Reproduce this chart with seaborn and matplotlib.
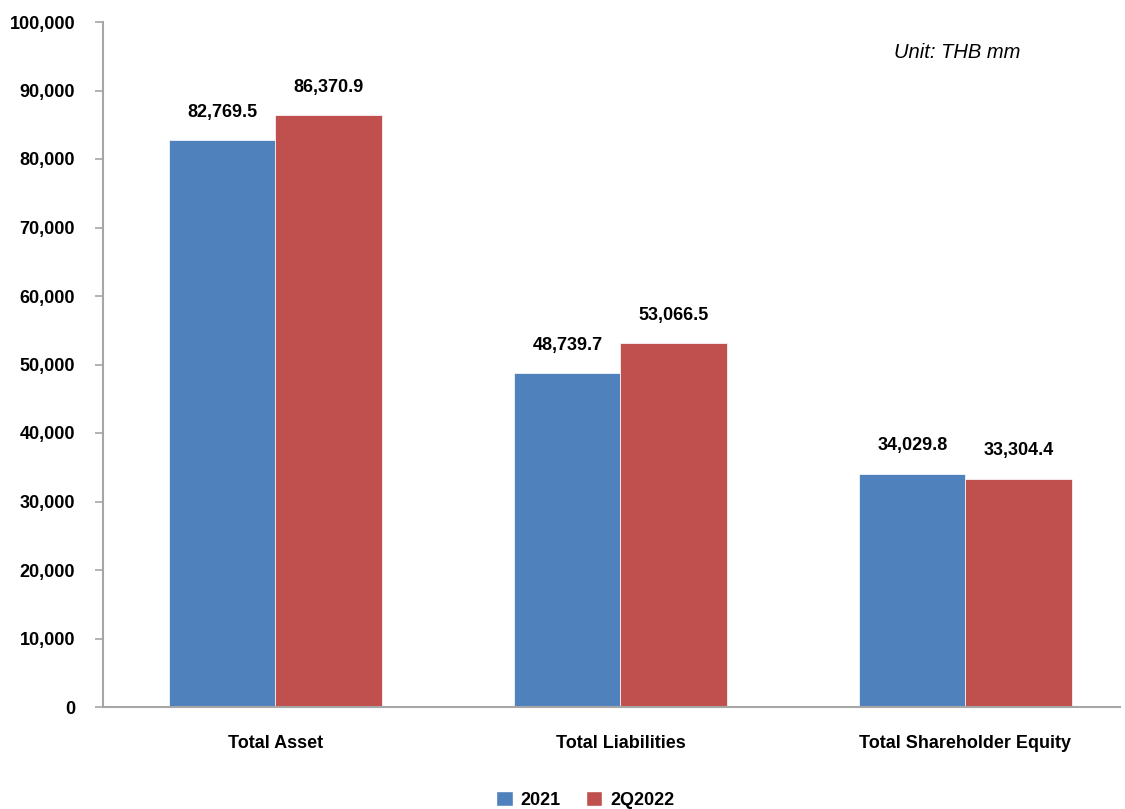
import matplotlib
matplotlib.use("Agg")
import matplotlib.pyplot as plt
import pandas as pd
import seaborn as sns
from matplotlib.ticker import FuncFormatter

categories = ["Total Asset", "Total Liabilities", "Total Shareholder Equity"]
periods = ["2021", "2Q2022"]
values_2021 = [82769.5, 48739.7, 34029.8]
values_2q2022 = [86370.9, 53066.5, 33304.4]
colors = ["#4F81BD", "#C0504D"]

df = pd.DataFrame({
    "category": categories * 2,
    "period": [periods[0]] * 3 + [periods[1]] * 3,
    "value": values_2021 + values_2q2022,
})

sns.set_style("white")
plt.rcParams["font.family"] = ["Liberation Sans", "DejaVu Sans"]
plt.rcParams["text.color"] = "black"
plt.rcParams["xtick.color"] = "black"
plt.rcParams["ytick.color"] = "black"

fig = plt.figure(figsize=(11.25, 8.09), dpi=100)
ax = fig.add_axes([103 / 1125, (809 - 707) / 809, (1120 - 103) / 1125, (707 - 22) / 809])

sns.barplot(data=df, x="category", y="value", hue="period", palette=colors,
            width=0.615, gap=0, saturation=1, ax=ax, legend=True)

for cont in ax.containers:
    for bar in cont:
        h = bar.get_height()
        ax.annotate(f"{h:,.1f}", (bar.get_x() + bar.get_width() / 2, h),
                    xytext=(0, 14), textcoords="offset points",
                    ha="center", va="bottom", fontsize=13, fontweight="bold")
        bar.set_edgecolor("white")
        bar.set_linewidth(0.5)

ax.set_ylim(0, 100000)
ax.set_yticks(range(0, 100001, 10000))
ax.yaxis.set_major_formatter(FuncFormatter(lambda v, p: f"{v:,.0f}"))
ax.set_xlim(-0.5, 2.448)
ax.set_xlabel("")
ax.set_ylabel("")

for s in ["top", "right"]:
    ax.spines[s].set_visible(False)
for s in ["left", "bottom"]:
    ax.spines[s].set_color("#A6A6A6")
    ax.spines[s].set_linewidth(1.5)

ax.tick_params(axis="y", which="major", direction="out", length=6, width=1.2,
               color="#A6A6A6", left=True, labelsize=13, labelcolor="black", pad=14)
ax.tick_params(axis="x", length=0, labelsize=13, labelcolor="black", pad=20)
for lbl in ax.get_yticklabels() + ax.get_xticklabels():
    lbl.set_fontweight("bold")

ax.text(854 / 1017, 0.955, "Unit: THB mm", transform=ax.transAxes, ha="center", va="center",
        fontsize=14.5, fontstyle="italic")

leg = ax.legend(loc="center", bbox_to_anchor=(0.5 - 26 / 1017, -93 / 685), ncol=2, frameon=False,
                handlelength=0.9, handleheight=0.9, handletextpad=0.45, columnspacing=1.4,
                prop={"weight": "bold", "size": 13})

fig.savefig("out.png", dpi=100)
